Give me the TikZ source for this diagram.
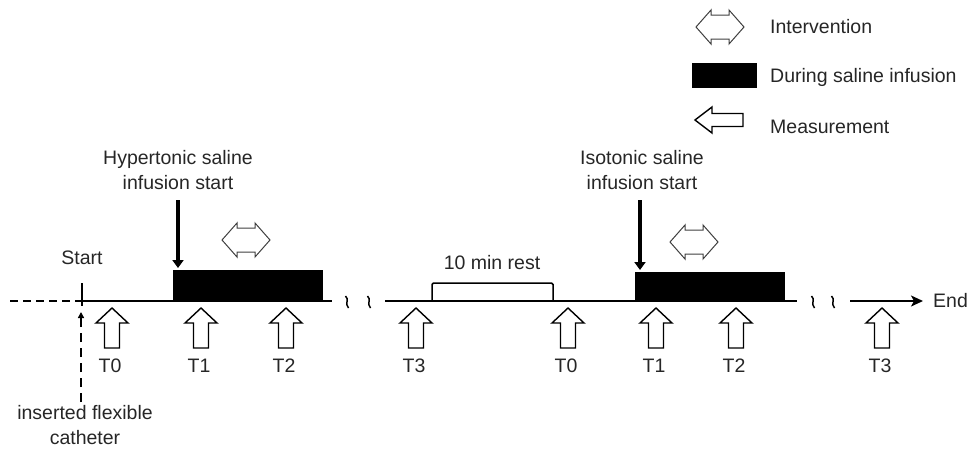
\documentclass[tikz,border=0pt]{standalone}
\usepackage{fontspec}
\setmainfont{Liberation Sans}
\usetikzlibrary{arrows.meta}
\begin{document}
\begin{tikzpicture}[x=1pt,y=-1pt,
  every node/.style={font=\fontsize{19.5}{25}\selectfont, inner sep=0pt, text=black!85},
  tline/.style={line width=1.7pt},
  bigarrow/.style={line width=4pt, -{Triangle[width=11pt,length=8pt]}},
  meas/.pic={\draw[line width=1.4pt, fill=white] (0,0) -- (16,15) -- (7.5,15) -- (7.5,40) -- (-7.5,40) -- (-7.5,15) -- (-16,15) -- cycle;},
  interv/.pic={\draw[line width=1pt, draw=black!75, fill=white] (-24,0) -- (-9,-17) -- (-9,-12) -- (9,-12) -- (9,-17) -- (24,0) -- (9,17) -- (9,12) -- (-9,12) -- (-9,17) -- cycle;},
  squig/.pic={\draw[line width=1.5pt] (-1.5,-6) .. controls (2.5,-3) and (-2.5,2) .. (1.5,6);}
]
\useasboundingbox (0,0) rectangle (972,456);

% legend
\pic at (720,27) {interv};
\node[anchor=west] (legI) at (770,27) {Intervention};
\fill (692,63) rectangle (757,88);
\node[anchor=west] (legD) at (770,77) {During saline infusion};
\draw[line width=1.4pt, fill=white] (695,120) -- (712,107) -- (712,113.5) -- (743,113.5) -- (743,126.5) -- (712,126.5) -- (712,133) -- cycle;
\node[anchor=west] (legM) at (770,127) {Measurement};

% timeline segment 1
\coordinate (d0) at (10,301);
\coordinate (s0) at (81,301);
\coordinate (s1) at (332,301);
\draw[tline, dash pattern=on 8pt off 5pt] (d0) -- (s0);
\draw[tline] (s0) -- (s1);
\draw[tline] (82,283) -- (82,306);
\node (start) at (82,258) {Start};
\coordinate (cathbot) at (81,402);
\coordinate (cathtop) at (81,312);
\draw[line width=1.4pt, dash pattern=on 9pt off 6pt, -{Triangle[width=6pt,length=6pt]}] (cathbot) -- (cathtop);
\node[align=center] (cath) at (85,425) {inserted flexible\\catheter};

\fill (173,270) rectangle (323,301);
\node[align=center] (hyper) at (178,170) {Hypertonic saline\\infusion start};
\coordinate (ha) at (178,200);
\coordinate (hb) at (178,268);
\draw[bigarrow] (ha) -- (hb);
\pic at (246,240) {interv};

% squiggles
\pic at (347,302) {squig};
\pic at (369,302) {squig};
\pic at (813,302) {squig};
\pic at (833,302) {squig};

% timeline segment 2
\coordinate (t0) at (385,301);
\coordinate (t1) at (797,301);
\draw[tline] (t0) -- (t1);
\draw[line width=1.5pt, rounded corners=1.5pt] (432,301) -- (432,283) -- (553,283) -- (553,301);
\node (rest) at (492,263) {10 min rest};
\fill (635,272) rectangle (785,301);
\node[align=center] (iso) at (642,170) {Isotonic saline\\infusion start};
\coordinate (ia) at (640,200);
\coordinate (ib) at (640,270);
\draw[bigarrow] (ia) -- (ib);
\pic at (694,242) {interv};

% end arrow
\coordinate (e0) at (850,301);
\coordinate (e1) at (923,301);
\draw[line width=1.6pt, -{Stealth[length=12pt,width=11pt,inset=3pt]}] (e0) -- (e1);
\node[anchor=west] (endl) at (933,301) {End};

% measurements
\foreach \x/\t in {112/T0, 201/T1, 286/T2, 416/T3, 568/T0, 656/T1, 736/T2, 882/T3}{
  \pic at (\x,308) {meas};
  \node (lab\x) at (\x-2,366) {\t};
}
\end{tikzpicture}
\end{document}
